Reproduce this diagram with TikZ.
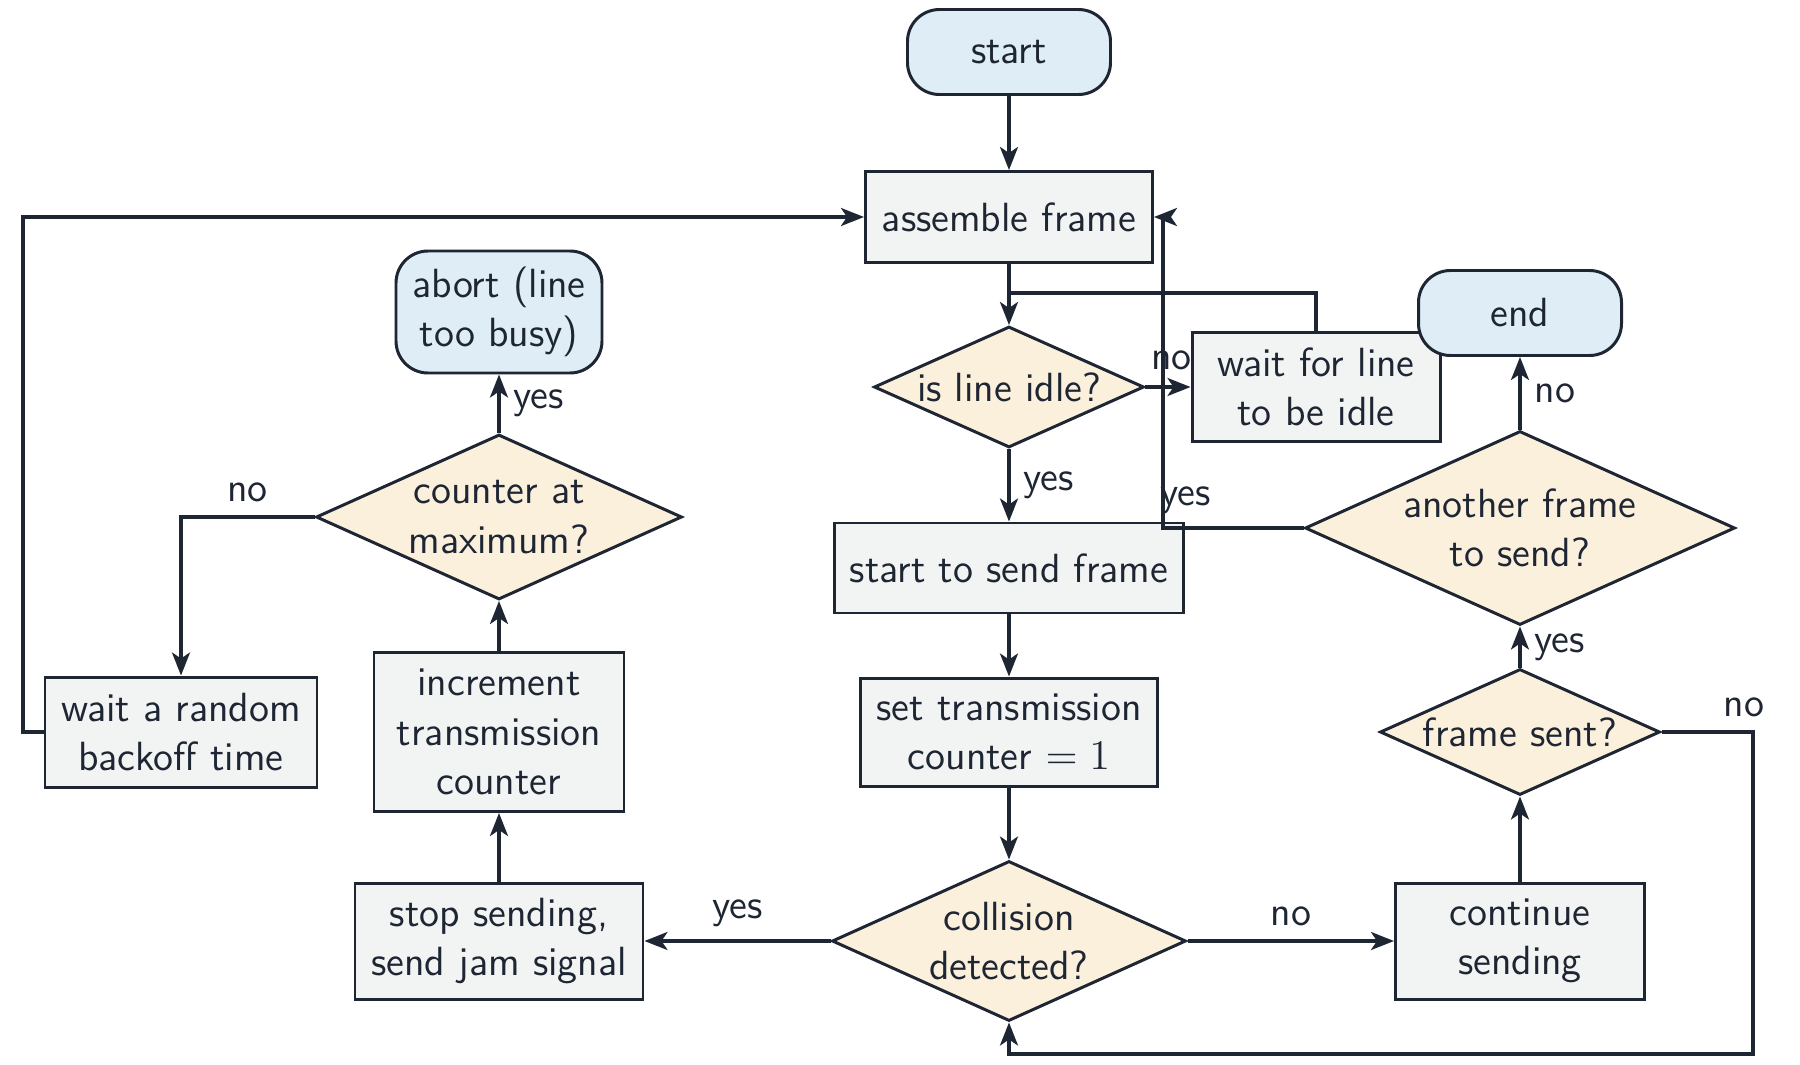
\documentclass[tikz,border=0pt]{standalone}
\usetikzlibrary{shapes.geometric,arrows.meta}
\definecolor{inkline}{RGB}{30,37,51}
\definecolor{procfill}{RGB}{242,244,243}
\definecolor{termfill}{RGB}{222,237,246}
\definecolor{decfill}{RGB}{251,240,220}
\tikzset{
    base/.style={draw=inkline, line width=0.85pt, text=inkline, align=center, inner sep=0pt},
    process/.style={base, rectangle, fill=procfill},
    terminal/.style={base, rectangle, rounded corners=3.2mm, fill=termfill},
    decision/.style={base, diamond, aspect=2.2, fill=decfill},
    flow/.style={draw=inkline, line width=0.95pt, -{Stealth[length=2.3mm,width=1.8mm,inset=0.6mm]}},
    link/.style={draw=inkline, line width=0.95pt},
    lbl/.style={text=inkline, inner sep=1.3mm},
}
\begin{document}
\begin{tikzpicture}[font=\sffamily\fontsize{11.6}{14.1}\selectfont]
        \useasboundingbox (0, 0) rectangle (18, -10.65);

        \node[terminal, minimum width=2.03cm, minimum height=0.85cm] (start) at (10.09, -0.52) {start};
        \node[process, minimum width=2.87cm, minimum height=0.91cm] (assemble) at (10.09, -2.17) {assemble frame};
        \node[decision, minimum width=2.70cm, minimum height=1.21cm] (idle) at (10.09, -3.87) {is line idle?};
        \node[process, minimum width=2.48cm, minimum height=1.09cm] (waitidle) at (13.16, -3.87) {wait for line\\to be idle};
        \node[terminal, minimum width=2.03cm, minimum height=0.85cm] (end) at (15.20, -3.13) {end};
        \node[process, minimum width=3.49cm, minimum height=0.90cm] (sendframe) at (10.09, -5.68) {start to send frame};
        \node[decision, minimum width=4.30cm, minimum height=1.94cm] (another) at (15.20, -5.28) {another frame\\to send?};
        \node[process, minimum width=2.97cm, minimum height=1.08cm] (settx) at (10.09, -7.32) {set transmission\\counter $=1$};
        \node[decision, minimum width=2.80cm, minimum height=1.26cm] (sent) at (15.20, -7.32) {frame sent?};
        \node[decision, minimum width=3.54cm, minimum height=1.60cm] (collision) at (10.09, -9.41) {collision\\detected?};
        \node[process, minimum width=2.49cm, minimum height=1.16cm] (cont) at (15.20, -9.41) {continue\\sending};
        \node[process, minimum width=2.88cm, minimum height=1.16cm] (stop) at (4.99, -9.41) {stop sending,\\send jam signal};
        \node[process, minimum width=2.50cm, minimum height=1.59cm] (incr) at (4.99, -7.32) {increment\\transmission\\counter};
        \node[decision, minimum width=3.66cm, minimum height=1.65cm] (counter) at (4.99, -5.17) {counter at\\maximum?};
        \node[terminal, minimum width=2.06cm, minimum height=1.22cm] (abort) at (4.99, -3.12) {abort (line\\too busy)};
        \node[process, minimum width=2.72cm, minimum height=1.10cm] (waitrand) at (1.81, -7.32) {wait a random\\backoff time};

        \coordinate (join) at (10.09, -2.93);
        \coordinate (backin) at (11.63, -2.17);
        \coordinate (loopin) at (17.53, -10.54);
        \coordinate (wayback) at (0.23, -7.32);

        \draw[flow] (start) -- (assemble);
        \draw[flow] (assemble) -- (idle);
        \draw[link] (waitidle.north) |- (join);
        \draw[flow] (idle.east) -- node[pos=0, anchor=south west, inner sep=0pt, xshift=0.4mm, yshift=1.5mm, text=inkline] {no} (waitidle.west);
        \draw[flow] (idle) -- node[lbl, right] {yes} (sendframe);
        \draw[flow] (sendframe) -- (settx);
        \draw[flow] (settx) -- (collision);
        \draw[flow] (collision) -- node[lbl, above] {yes} (stop);
        \draw[flow] (collision) -- node[lbl, above] {no} (cont);
        \draw[flow] (cont) -- (sent);
        \draw[flow] (sent) -- node[lbl, right] {yes} (another);
        \draw[flow] (another) -- node[lbl, right] {no} (end);
        \draw[flow] (another.west) -| node[pos=0.5, anchor=south west, inner sep=0pt, xshift=-0.4mm, yshift=1.3mm, text=inkline] {yes} (backin) -- (assemble.east);
        \draw[flow] (sent.east) -| node[pos=0.5, lbl, above, xshift=-0.9mm] {no} (loopin) -| (collision.south);
        \draw[flow] (stop) -- (incr);
        \draw[flow] (incr) -- (counter);
        \draw[flow] (counter) -- node[lbl, right] {yes} (abort);
        \draw[flow] (counter.west) -| node[pos=0.25, lbl, above] {no} (waitrand.north);
        \draw[flow] (waitrand.west) -- (wayback) |- (assemble.west);
    \end{tikzpicture}
\end{document}
